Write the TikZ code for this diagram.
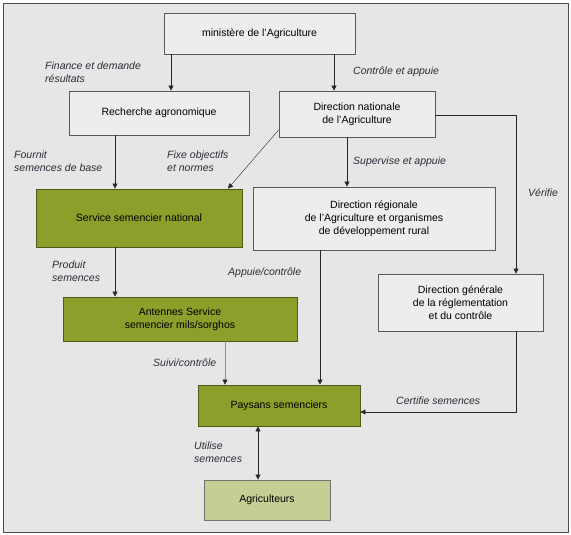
\documentclass[tikz,border=0pt]{standalone}
\usepackage{fontspec}
\setmainfont{Liberation Sans}
\usepackage{xcolor}
\usetikzlibrary{positioning,calc,arrows.meta}

\definecolor{fondgris}{HTML}{E6E6E6}
\definecolor{boitegris}{HTML}{EDEDED}
\definecolor{vertfonce}{HTML}{8C9F2A}
\definecolor{vertbord}{HTML}{4F5A1A}
\definecolor{vertclair}{HTML}{C6CE94}
\definecolor{textlabel}{HTML}{2B2B38}

\begin{document}
\begin{tikzpicture}[x=1pt, y=-1pt,
    font=\fontsize{10.5}{13}\selectfont,
    org block/.style={rectangle, draw=black!65, line width=0.8pt, align=center, fill=boitegris, inner sep=0pt},
    org green/.style={org block, fill=vertfonce, draw=vertbord},
    org light/.style={org block, fill=vertclair, draw=black!55},
    org arrow/.style={-{Triangle[length=5pt,width=5pt,color=black!85]}, line width=0.6pt, draw=black!85},
    org label/.style={font=\fontsize{10.5}{13}\selectfont\itshape, text=textlabel, align=left, anchor=west, inner sep=0pt}]

    % fond
    \draw [fill=fondgris, draw=black!70, line width=0.8pt] (3,3) rectangle (568,532);
    \useasboundingbox (0,0) rectangle (571,535);

    % boites
    \node [org block, minimum width=191pt, minimum height=41pt] (min) at (259.5,33.5) {minist\`ere de l'Agriculture};
    \node [org block, minimum width=180pt, minimum height=44pt] (rech) at (159,113) {Recherche agronomique};
    \node [org block, minimum width=156pt, minimum height=46pt] (dna) at (357,114) {Direction nationale\\de l'Agriculture};
    \node [org green, minimum width=206pt, minimum height=58pt] (ssn) at (139,218) {Service semencier national};
    \node [org block, minimum width=242pt, minimum height=63pt] (dra) at (374,218.5) {Direction r\'egionale\\de l'Agriculture et organismes\\de d\'eveloppement rural};
    \node [org green, minimum width=234pt, minimum height=44pt] (ant) at (180,319) {Antennes Service\\semencier mils/sorghos};
    \node [org block, minimum width=165pt, minimum height=57pt] (dgr) at (460.5,302.5) {Direction g\'en\'erale\\de la r\'eglementation\\et du contr\^ole};
    \node [org green, minimum width=162pt, minimum height=41pt] (pay) at (279,405.5) {Paysans semenciers};
    \node [org light, minimum width=126pt, minimum height=40pt] (agr) at (267,500) {Agriculteurs};

    % fleches
    \draw [org arrow] (min.south -| 171,0) -- (rech.north -| 171,0);
    \draw [org arrow] (min.south -| 334,0) -- (dna.north -| 334,0);
    \draw [org arrow] (rech.south -| 115,0) -- (ssn.north -| 115,0);
    \draw [org arrow, line width=0.4pt] (dna.west |- 0,130) -- (ssn.north -| 228,0);
    \draw [org arrow] (dna.south -| 347,0) -- (dra.north -| 347,0);
    \draw [org arrow] (dna.east |- 0,115) -| (dgr.north -| 516,0);
    \draw [org arrow] (ssn.south -| 115,0) -- (ant.north -| 115,0);
    \draw [org arrow] (dra.south -| 320,0) -- (pay.north -| 320,0);
    \draw [org arrow, draw=black!45] (ant.south -| 225,0) -- (pay.north -| 225,0);
    \draw [org arrow] (dgr.south -| 516,0) |- (pay.east |- 0,412);
    \draw [{Triangle[length=5pt,width=5pt]}-{Triangle[length=5pt,width=5pt]}, line width=0.6pt, draw=black!85] (pay.south -| 258,0) -- (agr.north -| 258,0);

    % etiquettes
    \node [org label] (lfin) at (45,72.5) {Finance et demande\\r\'esultats};
    \node [org label] (lcon) at (353,72) {Contr\^ole et appuie};
    \node [org label] (lfou) at (14,161.5) {Fournit\\semences de base};
    \node [org label] (lfix) at (167,161.5) {Fixe objectifs\\et normes};
    \node [org label] (lsup) at (353,162) {Supervise et appuie};
    \node [org label] (lver) at (528,193) {V\'erifie};
    \node [org label] (lpro) at (52,271.5) {Produit\\semences};
    \node [org label] (lapp) at (228,273) {Appuie/contr\^ole};
    \node [org label] (lsui) at (153,363) {Suivi/contr\^ole};
    \node [org label] (lcer) at (396,401) {Certifie semences};
    \node [org label] (luti) at (194,452.5) {Utilise\\semences};

\end{tikzpicture}
\end{document}
